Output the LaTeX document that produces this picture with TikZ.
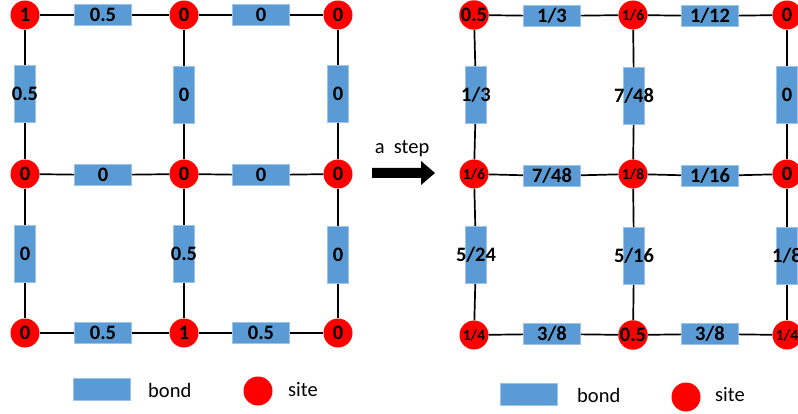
\documentclass[tikz,border=0pt]{standalone}
\usepackage{fontspec}
\setmainfont{Carlito}
\definecolor{bondblue}{HTML}{5B9BD5}
\definecolor{bondedge}{HTML}{9DC3E6}
\definecolor{sitered}{HTML}{FF0000}
\begin{document}
\begin{tikzpicture}[x=1pt,y=-1pt,
  site/.style={circle, fill=sitered, minimum size=29pt, inner sep=0pt, font=\fontsize{20.5}{24}\selectfont\bfseries},
  sitesm/.style={site, font=\fontsize{15.5}{18}\selectfont\bfseries},
  lbl/.style={font=\fontsize{20.5}{24}\selectfont\bfseries, inner sep=0pt},
  hbond/.style={rectangle, fill=bondblue, draw=bondedge, line width=0.6pt, minimum width=57pt, minimum height=21pt, inner sep=0pt, label={[lbl]center:#1}},
  vbond/.style={rectangle, fill=bondblue, draw=bondedge, line width=0.6pt, minimum width=21pt, minimum height=57pt, inner sep=0pt, label={[lbl]center:#1}},
  link/.style={line width=1.7pt, black},
  legtext/.style={font=\fontsize{20.5}{24}\selectfont, inner sep=0pt}
]
\useasboundingbox (0,0) rectangle (798,414);
\clip (0,0) rectangle (798,414);

% ---------- left grid ----------
\node[site] (a11) at (25,15) {1};
\node[site] (a12) at (184,15) {0};
\node[site] (a13) at (338,15) {0};
\node[site] (a21) at (25,174) {0};
\node[site] (a22) at (184,174) {0};
\node[site] (a23) at (338,174) {0};
\node[site] (a31) at (25,333) {0};
\node[site] (a32) at (184,333) {1};
\node[site] (a33) at (338,333) {0};

\node[hbond=0.5] (ah11) at (103,15) {};
\node[hbond=0]   (ah12) at (261,15) {};
\node[hbond=0]   (ah21) at (103,175) {};
\node[hbond=0]   (ah22) at (261,175) {};
\node[hbond=0.5] (ah31) at (103,333) {};
\node[hbond=0.5] (ah32) at (261,333) {};

\node[vbond=0.5] (av11) at (25,94) {};
\node[vbond=0]   (av12) at (184,95) {};
\node[vbond=0]   (av13) at (338,94) {};
\node[vbond=0]   (av21) at (25,254) {};
\node[vbond=0.5] (av22) at (184,254) {};
\node[vbond=0]   (av23) at (338,255) {};

\draw[link] (a11) -- (ah11) -- (a12) -- (ah12) -- (a13);
\draw[link] (a21) -- (ah21) -- (a22) -- (ah22) -- (a23);
\draw[link] (a31) -- (ah31) -- (a32) -- (ah32) -- (a33);
\draw[link] (a11) -- (av11) -- (a21) -- (av21) -- (a31);
\draw[link] (a12) -- (av12) -- (a22) -- (av22) -- (a32);
\draw[link] (a13) -- (av13) -- (a23) -- (av23) -- (a33);

% legend left
\node[rectangle, fill=bondblue, draw=bondedge, line width=0.6pt, minimum width=57pt, minimum height=22pt, inner sep=0pt] (lb1) at (102,389) {};
\node[legtext, anchor=west] (lt1) at (148,390) {bond};
\node[site] (ls1) at (258,391) {};
\node[legtext, anchor=west] (lt2) at (288,390) {site};

% ---------- arrow ----------
\node[legtext] (steptext) at (402,149) {a\ \ step};
\fill[black] (372,168) -- (421,168) -- (421,161) -- (435,173) -- (421,185) -- (421,178) -- (372,178) -- cycle;

% ---------- right grid ----------
\node[site]   (b11) at (474,15) {0.5};
\node[sitesm] (b12) at (633,15) {1/6};
\node[site]   (b13) at (787,15) {0};
\node[sitesm] (b21) at (474,174) {1/6};
\node[sitesm] (b22) at (633,174) {1/8};
\node[site]   (b23) at (787,174) {0};
\node[sitesm] (b31) at (474,335) {1/4};
\node[site]   (b32) at (633,335) {0.5};
\node[sitesm] (b33) at (787,335) {1/4};

\node[hbond=1/3]  (bh11) at (552,16) {};
\node[hbond=1/12] (bh12) at (710,16) {};
\node[hbond=7/48] (bh21) at (552,176) {};
\node[hbond=1/16] (bh22) at (710,176) {};
\node[hbond=3/8]  (bh31) at (552,334) {};
\node[hbond=3/8]  (bh32) at (710,334) {};

\node[vbond=1/3]  (bv11) at (476,95) {};
\node[vbond=7/48] (bv12) at (634,96) {};
\node[vbond=0]    (bv13) at (787,95) {};
\node[vbond=5/24] (bv21) at (476,255) {};
\node[vbond=5/16] (bv22) at (634,256) {};
\node[vbond=1/8]  (bv23) at (787,256) {};

\draw[link] (b11) -- (bh11) -- (b12) -- (bh12) -- (b13);
\draw[link] (b21) -- (bh21) -- (b22) -- (bh22) -- (b23);
\draw[link] (b31) -- (bh31) -- (b32) -- (bh32) -- (b33);
\draw[link] (b11) -- (bv11) -- (b21) -- (bv21) -- (b31);
\draw[link] (b12) -- (bv12) -- (b22) -- (bv22) -- (b32);
\draw[link] (b13) -- (bv13) -- (b23) -- (bv23) -- (b33);

% legend right
\node[rectangle, fill=bondblue, draw=bondedge, line width=0.6pt, minimum width=57pt, minimum height=22pt, inner sep=0pt] (lb2) at (529,394) {};
\node[legtext, anchor=west] (lt3) at (577,395) {bond};
\node[site] (ls2) at (686,397) {};
\node[legtext, anchor=west] (lt4) at (715,395) {site};
\end{tikzpicture}
\end{document}
